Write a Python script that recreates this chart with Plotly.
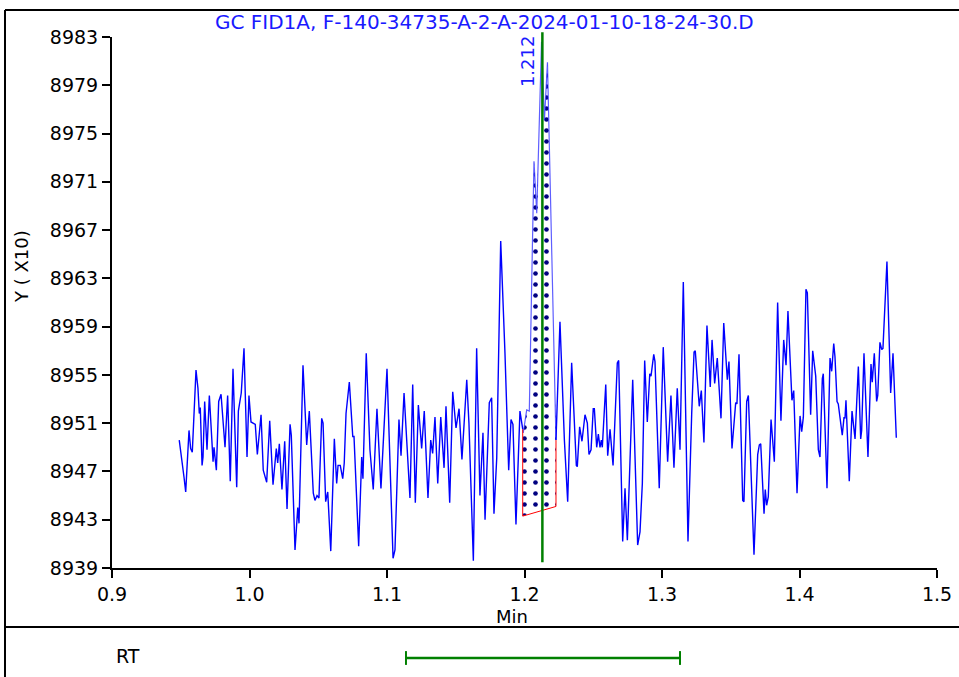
import numpy as np
import plotly.graph_objects as go

# ---- data ----
time_min = [0.9489,0.9514,0.9524,0.9536,0.9560,0.9572,0.9584,0.9611,0.9625,0.9635,0.9642,0.9655,0.9662,0.9674,0.9691,0.9708,0.9729,0.9735,0.9742,0.9759,
 0.9776,0.9793,0.9822,0.9841,0.9860,0.9880,0.9907,0.9919,0.9940,0.9960,0.9982,0.9996,1.0011,1.0042,1.0057,1.0084,1.0100,1.0125,1.0147,1.0171,
 1.0195,1.0205,1.0217,1.0236,1.0256,1.0273,1.0295,1.0304,1.0331,1.0351,1.0360,1.0389,1.0416,1.0435,1.0464,1.0476,1.0491,1.0505,1.0525,1.0535,
 1.0554,1.0569,1.0591,1.0617,1.0634,1.0644,1.0660,1.0678,1.0689,1.0702,1.0726,1.0751,1.0760,1.0794,1.0816,1.0825,1.0849,1.0876,1.0900,1.0927,
 1.0956,1.0978,1.1000,1.1044,1.1058,1.1087,1.1102,1.1124,1.1167,1.1187,1.1206,1.1228,1.1252,1.1271,1.1298,1.1318,1.1332,1.1349,1.1369,1.1391,
 1.1415,1.1429,1.1456,1.1478,1.1502,1.1524,1.1545,1.1580,1.1596,1.1628,1.1652,1.1676,1.1698,1.1713,1.1729,1.1744,1.1761,1.1778,1.1798,1.1827,
 1.1858,1.1885,1.1902,1.1916,1.1938,1.1967,1.1991,1.2016,1.2035,1.2069,1.2089,1.2124,1.2145,1.2167,1.2209,1.2229,1.2258,1.2290,1.2314,1.2343,
 1.2377,1.2384,1.2401,1.2418,1.2440,1.2457,1.2469,1.2484,1.2500,1.2508,1.2525,1.2537,1.2549,1.2559,1.2566,1.2591,1.2605,1.2622,1.2644,1.2675,
 1.2685,1.2714,1.2731,1.2748,1.2787,1.2823,1.2840,1.2857,1.2874,1.2893,1.2911,1.2920,1.2940,1.2949,1.2980,1.3009,1.3041,1.3065,1.3087,1.3111,
 1.3131,1.3155,1.3189,1.3216,1.3233,1.3242,1.3271,1.3286,1.3305,1.3327,1.3351,1.3364,1.3383,1.3402,1.3429,1.3449,1.3475,1.3487,1.3509,1.3536,
 1.3545,1.3560,1.3587,1.3596,1.3616,1.3628,1.3669,1.3696,1.3708,1.3718,1.3742,1.3751,1.3761,1.3773,1.3793,1.3817,1.3841,1.3865,1.3885,1.3902,
 1.3916,1.3945,1.3958,1.3982,1.4004,1.4016,1.4028,1.4047,1.4057,1.4081,1.4096,1.4118,1.4137,1.4149,1.4166,1.4173,1.4200,1.4222,1.4234,1.4249,
 1.4258,1.4273,1.4282,1.4311,1.4324,1.4331,1.4338,1.4362,1.4382,1.4404,1.4428,1.4445,1.4452,1.4469,1.4498,1.4520,1.4529,1.4544,1.4561,1.4569,
 1.4585,1.4598,1.4607,1.4636,1.4663,1.4680,1.4704]

signal = [8949.6,8947.0,8946.5,8945.3,8950.4,8948.9,8948.6,8955.4,8953.9,8951.8,8952.3,8947.5,8948.2,8952.8,8948.8,8953.3,8948.5,8947.8,8949.0,8947.1,
 8952.8,8953.4,8949.0,8953.3,8946.2,8955.5,8945.7,8952.0,8953.5,8957.2,8948.2,8953.3,8951.1,8950.9,8948.4,8951.7,8947.1,8946.1,8951.2,8945.9,
 8948.9,8947.7,8949.3,8945.5,8949.5,8943.9,8950.9,8950.0,8940.5,8944.0,8942.7,8955.8,8949.2,8952.0,8945.2,8944.6,8945.0,8944.8,8951.4,8951.0,
 8944.5,8945.3,8940.4,8949.7,8946.0,8947.5,8947.5,8946.4,8947.7,8951.8,8954.4,8949.9,8949.9,8940.8,8948.2,8946.4,8956.8,8948.8,8945.5,8952.2,
 8945.6,8950.4,8955.5,8939.8,8940.5,8951.3,8948.3,8953.5,8944.8,8954.2,8944.4,8952.5,8948.9,8952.0,8944.8,8949.6,8948.5,8951.5,8946.0,8951.5,
 8947.3,8952.4,8944.4,8953.6,8950.6,8952.2,8948.0,8954.6,8951.0,8939.6,8957.2,8945.0,8950.2,8943.0,8948.0,8952.7,8953.1,8943.5,8948.1,8966.1,
 8956.8,8947.1,8951.3,8950.9,8942.6,8952.0,8950.2,8952.1,8952.0,8972.7,8968.4,8982.6,8976.1,8980.9,8959.5,8949.6,8959.4,8949.6,8944.5,8956.0,
 8947.5,8947.4,8950.7,8949.5,8951.7,8951.0,8948.4,8948.8,8952.2,8952.2,8949.0,8950.1,8949.0,8949.6,8949.0,8954.2,8948.3,8950.5,8947.5,8956.0,
 8956.2,8941.2,8945.6,8941.3,8954.6,8940.9,8942.0,8946.0,8956.2,8951.1,8955.1,8954.9,8956.7,8956.1,8945.6,8957.3,8947.8,8953.3,8947.3,8953.9,
 8948.8,8962.7,8941.2,8951.8,8956.9,8957.0,8952.4,8953.7,8949.4,8959.1,8954.0,8957.9,8954.3,8956.4,8951.4,8959.3,8954.6,8956.1,8948.9,8952.7,
 8952.6,8956.7,8944.6,8944.5,8952.8,8953.3,8940.1,8948.4,8949.2,8949.3,8943.5,8945.5,8944.2,8944.9,8951.3,8947.8,8961.0,8951.2,8957.9,8955.8,
 8960.3,8952.9,8953.7,8945.2,8951.6,8950.3,8951.5,8962.1,8961.8,8951.7,8957.0,8954.9,8948.8,8948.2,8954.7,8955.1,8945.6,8956.4,8955.3,8957.6,
 8956.5,8952.8,8952.6,8950.0,8951.5,8951.4,8952.9,8946.2,8952.0,8949.7,8955.7,8949.7,8950.4,8956.8,8948.2,8955.9,8954.4,8956.8,8952.8,8953.3,
 8957.7,8957.1,8957.2,8964.4,8953.5,8956.8,8949.8]

assert len(time_min) == len(signal)

peak_start = 1.1987
peak_end = 1.2229
baseline_start = 8943.3
baseline_end = 8944.1
peak_rt = 1.213
peak_label = "1.212"
rt_window = [1.1138, 1.3131]

x_ticks = [0.9, 1.0, 1.1, 1.2, 1.3, 1.4, 1.5]
y_ticks = [8939, 8943, 8947, 8951, 8955, 8959, 8963, 8967, 8971, 8975, 8979, 8983]
title_text = "GC FID1A, F-140-34735-A-2-A-2024-01-10-18-24-30.D"

# ---- build figure ----
t = np.array(time_min)
s = np.array(signal)
s_ps = float(np.interp(peak_start, t, s))
s_pe = float(np.interp(peak_end, t, s))

pre = t < peak_start
post = t > peak_end
mid = (t > peak_start) & (t < peak_end)

fig = go.Figure()

# shaded integrated area
poly_t = [peak_start] + list(t[mid]) + [peak_end, peak_end, peak_start, peak_start]
poly_s = [s_ps] + list(s[mid]) + [s_pe, baseline_end, baseline_start, s_ps]
fig.add_trace(go.Scatter(
    x=poly_t, y=poly_s, mode="lines", fill="toself",
    line=dict(width=0, color="rgba(0,0,0,0)"),
    fillcolor="white",
    fillpattern=dict(shape=".", size=11, solidity=0.14, fgcolor="#000080", fgopacity=1,
                     bgcolor="white"),
    hoverinfo="skip", showlegend=False))

fig.add_trace(go.Scatter(
    x=list(t[pre]) + [peak_start], y=list(s[pre]) + [s_ps],
    mode="lines", line=dict(color="#0000ff", width=1.4), showlegend=False))
fig.add_trace(go.Scatter(
    x=[peak_start] + list(t[mid]) + [peak_end], y=[s_ps] + list(s[mid]) + [s_pe],
    mode="lines", line=dict(color="rgba(40,40,255,0.75)", width=1.2), showlegend=False))
fig.add_trace(go.Scatter(
    x=[peak_end] + list(t[post]), y=[s_pe] + list(s[post]),
    mode="lines", line=dict(color="#0000ff", width=1.4), showlegend=False))

# baseline & drop lines (red)
fig.add_trace(go.Scatter(
    x=[peak_start, peak_start, peak_end, peak_end],
    y=[s_ps, baseline_start, baseline_end, s_pe],
    mode="lines", line=dict(color="#ff0000", width=1), showlegend=False))

shapes = []
# retention-time marker line
shapes.append(dict(type="line", xref="x", yref="paper", x0=peak_rt, x1=peak_rt,
                   y0=0.011, y1=1.009, line=dict(color="#008000", width=2.5)))
# RT window bar in lower panel
bar_y = -0.1695
cap = 0.013
shapes.append(dict(type="line", xref="x", yref="paper", x0=rt_window[0], x1=rt_window[1],
                   y0=bar_y, y1=bar_y, line=dict(color="#008000", width=2.5)))
for xv in rt_window:
    shapes.append(dict(type="line", xref="x", yref="paper", x0=xv, x1=xv,
                       y0=bar_y - cap, y1=bar_y + cap, line=dict(color="#008000", width=2)))
# outer frame
fx0, fx1 = -0.1297, 1.03
fy_top, fy_bot, fy_sep = 1.0508, -0.21, -0.1111
shapes.append(dict(type="line", xref="paper", yref="paper", x0=fx0, x1=fx1, y0=fy_top, y1=fy_top,
                   line=dict(color="black", width=2)))
shapes.append(dict(type="line", xref="paper", yref="paper", x0=fx0, x1=fx0, y0=fy_bot, y1=fy_top,
                   line=dict(color="black", width=2)))
shapes.append(dict(type="line", xref="paper", yref="paper", x0=fx0, x1=fx1, y0=fy_sep, y1=fy_sep,
                   line=dict(color="black", width=2)))

annotations = [
    dict(text=title_text, xref="paper", yref="paper", x=0.452, y=1.028, xanchor="center",
         yanchor="middle", showarrow=False, font=dict(family="DejaVu Sans", size=20, color="#1a1aff")),
    dict(text=peak_label, xref="x", yref="y", x=1.2018, y=8981.0, textangle=-90, xanchor="center",
         yanchor="middle", showarrow=False, font=dict(family="DejaVu Sans", size=18, color="#1a1aff")),
    dict(text="Y ( X10)", xref="paper", yref="paper", x=-0.109, y=0.567, textangle=-90,
         xanchor="center", yanchor="middle", showarrow=False,
         font=dict(family="DejaVu Sans", size=18, color="black")),
    dict(text="Min", xref="paper", yref="paper", x=0.485, y=-0.092, xanchor="center",
         yanchor="middle", showarrow=False, font=dict(family="DejaVu Sans", size=18, color="black")),
    dict(text="RT", xref="paper", yref="paper", x=0.019, y=-0.165, xanchor="center",
         yanchor="middle", showarrow=False, font=dict(family="DejaVu Sans", size=19, color="black")),
]

fig.update_layout(
    width=959, height=677,
    margin=dict(l=112, r=22, t=37, b=109),
    paper_bgcolor="white", plot_bgcolor="white",
    showlegend=False,
    shapes=shapes, annotations=annotations,
    font=dict(family="DejaVu Sans", size=19, color="black"),
    xaxis=dict(range=[0.9, 1.5], tickvals=x_ticks, ticktext=[f"{v:.1f}" for v in x_ticks],
               showgrid=False, zeroline=False, showline=True, linecolor="black", linewidth=2,
               ticks="outside", ticklen=8, tickwidth=2, tickcolor="black", automargin=False,
               tickfont=dict(family="DejaVu Sans", size=19, color="black")),
    yaxis=dict(range=[8939, 8983], tickvals=y_ticks, ticktext=[str(v) for v in y_ticks],
               showgrid=False, zeroline=False, showline=True, linecolor="black", linewidth=2,
               ticks="outside", ticklen=8, tickwidth=2, tickcolor="black", automargin=False,
               tickfont=dict(family="DejaVu Sans", size=19, color="black")),
)

fig.write_html("out.html", config={"displayModeBar": False},
               post_script="document.body.style.margin='0';")
